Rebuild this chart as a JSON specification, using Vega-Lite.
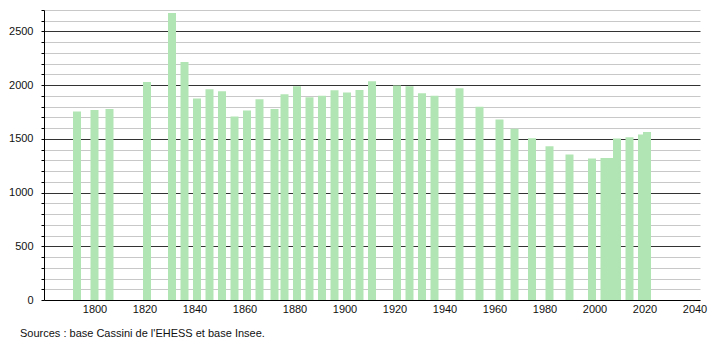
{
  "$schema": "https://vega.github.io/schema/vega-lite/v6.json",
  "width": 656,
  "height": 290,
  "autosize": {"type": "none"},
  "padding": {"left": 44, "top": 10, "right": 10, "bottom": 40},
  "background": "white",
  "config": {
    "view": {"stroke": null},
    "font": "Liberation Sans",
    "title": {"font": "Liberation Sans", "fontSize": 11, "fontWeight": "normal", "color": "#111"}
  },
  "title": {
    "text": "Sources : base Cassini de l'EHESS et base Insee.",
    "orient": "bottom",
    "anchor": "start",
    "frame": "group",
    "dx": -24,
    "offset": 14
  },
  "data": {
    "values": [
      {"year": 1793, "population": 1756},
      {"year": 1800, "population": 1768},
      {"year": 1806, "population": 1778},
      {"year": 1821, "population": 2030},
      {"year": 1831, "population": 2671},
      {"year": 1836, "population": 2217},
      {"year": 1841, "population": 1877},
      {"year": 1846, "population": 1961},
      {"year": 1851, "population": 1943},
      {"year": 1856, "population": 1709},
      {"year": 1861, "population": 1765},
      {"year": 1866, "population": 1868},
      {"year": 1872, "population": 1778},
      {"year": 1876, "population": 1915},
      {"year": 1881, "population": 1990},
      {"year": 1886, "population": 1887},
      {"year": 1891, "population": 1902},
      {"year": 1896, "population": 1952},
      {"year": 1901, "population": 1933},
      {"year": 1906, "population": 1955},
      {"year": 1911, "population": 2036},
      {"year": 1921, "population": 1996},
      {"year": 1926, "population": 1990},
      {"year": 1931, "population": 1924},
      {"year": 1936, "population": 1902},
      {"year": 1946, "population": 1971},
      {"year": 1954, "population": 1800},
      {"year": 1962, "population": 1681},
      {"year": 1968, "population": 1594},
      {"year": 1975, "population": 1507},
      {"year": 1982, "population": 1432},
      {"year": 1990, "population": 1354},
      {"year": 1999, "population": 1317},
      {"year": 2004, "population": 1323},
      {"year": 2006, "population": 1323},
      {"year": 2009, "population": 1504},
      {"year": 2014, "population": 1516},
      {"year": 2019, "population": 1541},
      {"year": 2021, "population": 1563}
    ]
  },
  "mark": {"type": "bar", "width": 8, "color": "#b2e5b4"},
  "encoding": {
    "x": {
      "field": "year",
      "type": "quantitative",
      "scale": {"domain": [1779.8, 2042.2], "nice": false, "zero": false, "padding": 0},
      "axis": {
        "title": null,
        "values": [1800, 1820, 1840, 1860, 1880, 1900, 1920, 1940, 1960, 1980, 2000, 2020, 2040],
        "format": "d",
        "grid": false,
        "ticks": false,
        "labelPadding": 3,
        "labelFontSize": 11,
        "labelColor": "#111",
        "labelFont": "Liberation Sans",
        "labelFlush": false,
        "domainColor": "#000",
        "domainWidth": 1
      }
    },
    "y": {
      "field": "population",
      "type": "quantitative",
      "scale": {"domain": [0, 2700], "nice": false},
      "axis": {
        "title": null,
        "values": [0, 100, 200, 300, 400, 500, 600, 700, 800, 900, 1000, 1100, 1200, 1300, 1400, 1500, 1600, 1700, 1800, 1900, 2000, 2100, 2200, 2300, 2400, 2500, 2600, 2700],
        "labelExpr": "datum.value % 500 === 0 ? datum.value : ''",
        "grid": true,
        "gridColor": {"condition": {"test": "datum.value % 500 === 0 && datum.value > 0", "value": "#333333"}, "value": "#c8c8c8"},
        "gridWidth": 1,
        "ticks": true,
        "tickSize": 3,
        "tickColor": "#000",
        "labelPadding": 8,
        "labelFontSize": 11,
        "labelColor": "#111",
        "labelFont": "Liberation Sans",
        "labelFlush": false,
        "domainColor": "#000",
        "domainWidth": 1
      }
    }
  }
}
